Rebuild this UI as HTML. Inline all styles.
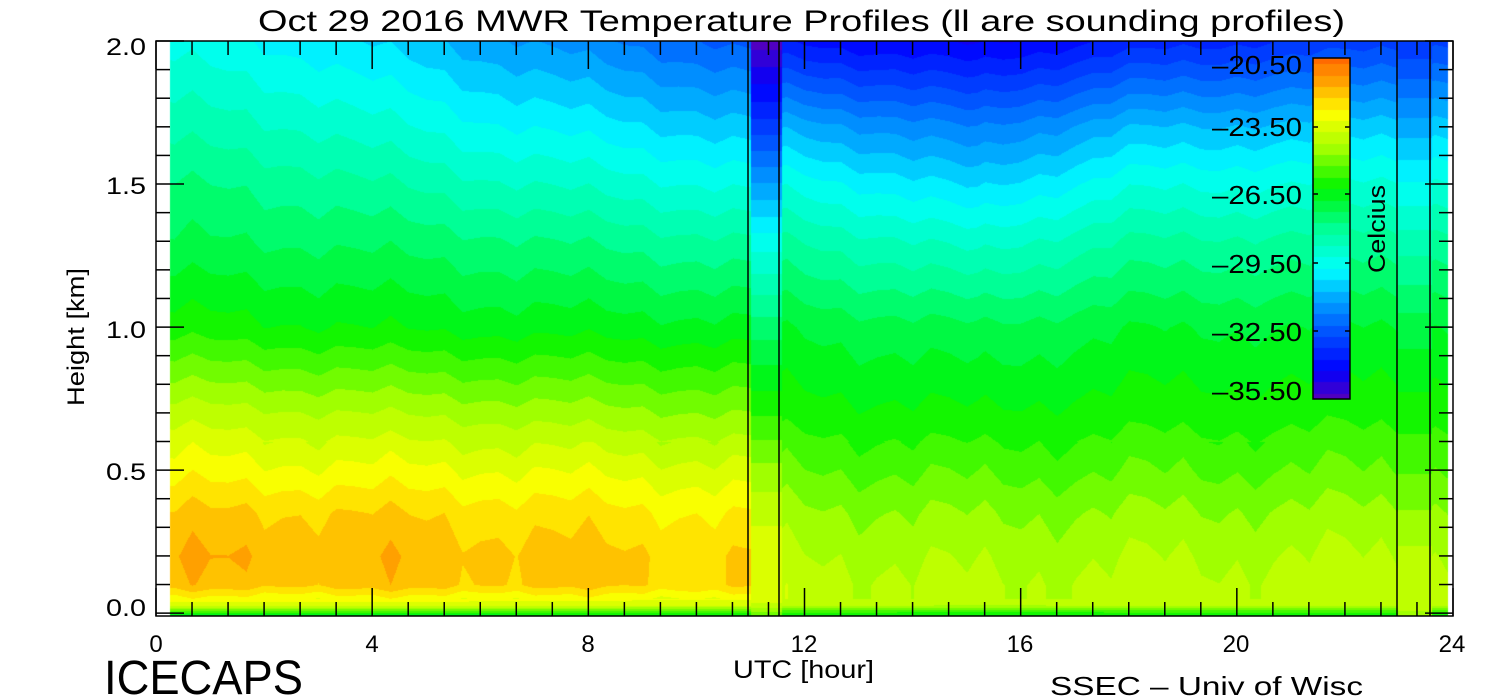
<!DOCTYPE html>
<html><head><meta charset="utf-8"><style>
html,body{margin:0;padding:0;background:#fff;width:1500px;height:700px;overflow:hidden}
#c{position:absolute;left:0;top:0}
svg{position:absolute;left:0;top:0}
text{font-family:"Liberation Sans",sans-serif;fill:#000}
</style></head><body>
<canvas id="c" width="1500" height="700"></canvas>
<svg width="1500" height="700" id="s">
<text x="258" y="31" font-size="30" textLength="1087" lengthAdjust="spacingAndGlyphs">Oct 29 2016 MWR Temperature Profiles (ll are sounding profiles)</text>
<g font-size="24">
<text x="106" y="55" textLength="40" lengthAdjust="spacingAndGlyphs">2.0</text>
<text x="106" y="194" textLength="40" lengthAdjust="spacingAndGlyphs">1.5</text>
<text x="106" y="338" textLength="40" lengthAdjust="spacingAndGlyphs">1.0</text>
<text x="106" y="480" textLength="40" lengthAdjust="spacingAndGlyphs">0.5</text>
<text x="106" y="616" textLength="40" lengthAdjust="spacingAndGlyphs">0.0</text>
</g>
<g font-size="24" text-anchor="middle">
<text x="156" y="652">0</text><text x="372" y="652">4</text><text x="588" y="652">8</text><text x="804" y="652">12</text><text x="1020" y="652">16</text><text x="1236" y="652">20</text><text x="1452" y="652">24</text>
</g>
<text x="733" y="678" font-size="25" textLength="141" lengthAdjust="spacingAndGlyphs">UTC [hour]</text>
<text x="104" y="694" font-size="48" textLength="199" lengthAdjust="spacingAndGlyphs">ICECAPS</text>
<text x="1050" y="695" font-size="26" textLength="313" lengthAdjust="spacingAndGlyphs">SSEC – Univ of Wisc</text>
<text transform="translate(84,406) rotate(-90)" font-size="24" textLength="138" lengthAdjust="spacingAndGlyphs">Height [km]</text>
<g font-size="26">
<text x="1212" y="74" textLength="90" lengthAdjust="spacingAndGlyphs">–20.50</text>
<text x="1212" y="136" textLength="90" lengthAdjust="spacingAndGlyphs">–23.50</text>
<text x="1212" y="204" textLength="90" lengthAdjust="spacingAndGlyphs">–26.50</text>
<text x="1212" y="273" textLength="90" lengthAdjust="spacingAndGlyphs">–29.50</text>
<text x="1212" y="341" textLength="90" lengthAdjust="spacingAndGlyphs">–32.50</text>
<text x="1212" y="400" textLength="90" lengthAdjust="spacingAndGlyphs">–35.50</text>
</g>
<text transform="translate(1385,273) rotate(-90)" font-size="24" textLength="88" lengthAdjust="spacingAndGlyphs">Celcius</text>
<g id="ax" stroke="#000" stroke-width="1.5" fill="none"></g>
</svg>
<script>
var cv=document.getElementById('c'),ctx=cv.getContext('2d');
var L=156,R=1453,T=41,B=616;
function Yh(h){return T+(2-h)*(B-T)/2.01}
var stops=[[-20.5,[255,106,0]],[-21.5,[255,160,0]],[-22.9,[255,255,0]],[-24.5,[160,255,0]],[-26.2,[0,245,0]],[-28,[0,255,150]],[-29.8,[0,255,255]],[-31,[0,170,255]],[-32.5,[0,85,255]],[-34.2,[0,0,255]],[-35.5,[80,0,192]]];
function cmap(v){v=Math.round(v*2)/2;if(v>=stops[0][0])return stops[0][1];
for(var i=1;i<stops.length;i++){if(v>=stops[i][0]){var a=stops[i-1],b=stops[i],f=(v-a[0])/(b[0]-a[0]);return [0,1,2].map(function(k){return Math.round(a[1][k]+(b[1][k]-a[1][k])*f)})}}return stops[stops.length-1][1]}
var H=[0,0.03,0.1,0.2,0.35,0.5,0.7,1.0,1.3,1.5,1.7,2.0];
var K=[[0,[-26,-23.5,-22,-21.8,-22.2,-23,-24,-26,-27.2,-27.7,-28.4,-29.4]],
[3,[-26,-23.5,-22,-21.8,-22.2,-23.1,-24.2,-26.2,-27.3,-28,-28.8,-30]],
[6,[-26,-23.5,-22.1,-22,-22.4,-23.2,-24.4,-26.4,-27.6,-28.6,-29.6,-31]],
[11,[-26,-23.6,-22.3,-22.3,-22.8,-23.6,-24.8,-26.6,-28.2,-29.4,-30.6,-32.5]],
[11.6,[-26,-24,-24,-24.2,-24.6,-25.2,-26,-26.8,-28.2,-29.4,-30.9,-33.8]],
[15.2,[-26,-24.2,-24.2,-24.4,-24.8,-25.4,-26.2,-27.2,-29,-30.4,-31.8,-34.4]],
[18,[-26,-24.1,-24.1,-24.3,-24.7,-25.3,-26,-26.8,-28.2,-29.4,-30.8,-33.6]],
[24,[-26,-24,-24,-24.2,-24.6,-25.2,-25.9,-26.7,-28,-29.1,-30.4,-32.8]]];
var SL=[-25,-23.8,-23.3,-23.4,-23.9,-24.6,-25.8,-27.5,-29.5,-31.2,-33,-35.5];
var SR=[-24.5,-23.8,-23.8,-24.1,-24.7,-25.3,-26,-27,-28.5,-29.7,-31,-33.2];
function prof(p,h){for(var i=1;i<H.length;i++){if(h<=H[i]){var f=(h-H[i-1])/(H[i]-H[i-1]);return p[i-1]+(p[i]-p[i-1])*f}}return p[p.length-1]}
function field(t,h){
if(t>=11.0&&t<11.58)return prof(SL,h);
if(t>=22.98&&t<23.6)return prof(SR,h);
for(var i=1;i<K.length;i++){if(t<=K[i][0]){var a=K[i-1],b=K[i],f=(t-a[0])/(b[0]-a[0]);if(a[0]==11&&t<11.6)f=1;
var va=prof(a[1],h),vb=prof(b[1],h);var v=va+(vb-va)*f;
var k=Math.floor(t*3),fr=t*3-k;var n1=Math.sin(k*2.3)*Math.cos(k*1.7),n2=Math.sin((k+1)*2.3)*Math.cos((k+1)*1.7);
var n=n1+(n2-n1)*fr;var amp=h<0.05?0:(h<0.6?0.3:0.2);return v+n*amp}}return prof(K[K.length-1][1],h)}
var img=ctx.createImageData(R-L,B-T);
for(var y=T;y<B;y++){var h=2-(y-T)*2.01/(B-T);for(var x=L;x<R;x++){var t=(x-L)*24/(R-L);var c;
if(x<170||x>1447)c=[255,255,255];else c=cmap(field(t,h));
var o=((y-T)*(R-L)+(x-L))*4;img.data[o]=c[0];img.data[o+1]=c[1];img.data[o+2]=c[2];img.data[o+3]=255}}
ctx.putImageData(img,L,T);
for(var y=58;y<399;y++){var v=-20.5-(y-58)*15/341;var c=cmap(v);ctx.fillStyle='rgb('+c+')';ctx.fillRect(1313,y,37,1)}
var g=document.getElementById('ax'),s='';
function ln(a,b,c,d){s+='<line x1="'+a+'" y1="'+b+'" x2="'+c+'" y2="'+d+'"/>'}
s+='<rect x="'+L+'" y="'+T+'" width="'+(R-L)+'" height="'+(B-T)+'"/>';
s+='<rect x="1313" y="58" width="37" height="341"/>';
[748,779,1397,1430].forEach(function(x){ln(x,T,x,B)});
for(var i=0;i<=36;i++){var x=L+i*(R-L)/36;var len=(i%6==0)?28:14;ln(x,B,x,B-len);ln(x,T,x,T+len)}
for(var i=0;i<=20;i++){var y=Yh(i/10);var len=(i%5==0)?28:14;ln(L,y,L+len,y);ln(R,y,R-len,y)}
[127,194,263,331].forEach(function(y){ln(1313,y,1318,y);ln(1350,y,1345,y)});
g.innerHTML=s;
</script>
</body></html>
